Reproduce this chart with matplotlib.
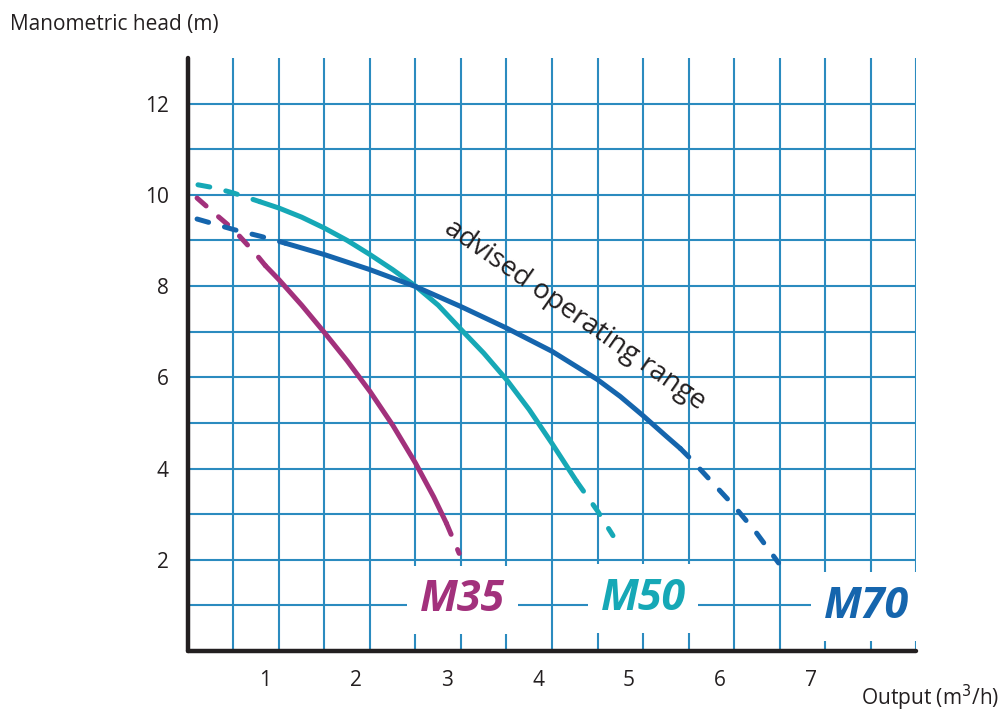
import numpy as np
import matplotlib
matplotlib.use("Agg")
import matplotlib.pyplot as plt
from matplotlib.transforms import ScaledTranslation

plt.rcParams['font.family'] = ['Open Sans', 'DejaVu Sans']

# pump curves: flow (m3/h) vs head (m)
# (index pairs mark the solid "advised operating range" part)
m35_flow = [0.10, 0.30, 0.50, 0.76, 0.85, 1.00, 1.25, 1.50, 1.75, 2.00, 2.25, 2.50, 2.70, 2.84, 2.98]
m35_head = [9.93, 9.58, 9.24, 8.67, 8.45, 8.14, 7.58, 6.98, 6.36, 5.69, 4.95, 4.12, 3.38, 2.80, 2.14]
m35_solid = (4, 13)

m50_flow = [0.11, 0.30, 0.50, 0.79, 1.00, 1.25, 1.50, 1.75, 2.00, 2.25, 2.50, 2.75,
            3.00, 3.25, 3.50, 3.75, 4.00, 4.27, 4.50, 4.67]
m50_head = [10.22, 10.15, 10.04, 9.85, 9.71, 9.51, 9.27, 9.00, 8.69, 8.36, 8.00, 7.58,
            7.05, 6.53, 5.95, 5.29, 4.55, 3.72, 3.07, 2.53]
m50_solid = (3, 17)

m70_flow = [0.10, 0.50, 0.80, 1.07, 1.50, 2.00, 2.50, 3.00, 3.50, 4.00, 4.50, 4.75,
            5.00, 5.26, 5.41, 5.52, 5.75, 6.00, 6.25, 6.49]
m70_head = [9.47, 9.24, 9.09, 8.94, 8.69, 8.36, 7.99, 7.55, 7.08, 6.57, 5.95, 5.58,
            5.16, 4.70, 4.44, 4.22, 3.72, 3.18, 2.58, 1.93]
m70_solid = (3, 14)

models = ['M35', 'M50', 'M70']
colors = ['#a2317c', '#16a8b6', '#1565ad']
label_pos = [(3.02, 1.12), (5.0, 1.16), (7.45, 0.97)]

x_ticks = [1, 2, 3, 4, 5, 6, 7]
y_ticks = [2, 4, 6, 8, 10, 12]

grid_col = '#2b8bbf'
axis_col = '#231f20'

fig = plt.figure(figsize=(10.03, 7.14), dpi=100)
ax = fig.add_axes([0.1874, 0.0882, 0.9133 - 0.1874, 0.9188 - 0.0882])
ax.set_xlim(0, 8)
ax.set_ylim(0, 13)

# grid
for gx in np.arange(0.5, 8.01, 0.5):
    ax.axvline(gx, color=grid_col, lw=1.5, zorder=1)
for gy in range(1, 13):
    ax.axhline(gy, color=grid_col, lw=1.5, zorder=1)

for s in ['top', 'right']:
    ax.spines[s].set_visible(False)
for s in ['left', 'bottom']:
    ax.spines[s].set_color(axis_col)
    ax.spines[s].set_linewidth(3.2)
    ax.spines[s].set_capstyle('round')

# curves: dashed start, solid operating range, dashed end
curves = [(m35_flow, m35_head, m35_solid),
          (m50_flow, m50_head, m50_solid),
          (m70_flow, m70_head, m70_solid)]
dash = (2.4, 3.3)
for (fx, hy, (i0, i1)), col in zip(curves, colors):
    fx, hy = np.array(fx), np.array(hy)
    kw = dict(color=col, lw=3.6, zorder=3)
    ax.plot(fx[:i0 + 1], hy[:i0 + 1], dashes=dash, dash_capstyle='round', **kw)
    ax.plot(fx[i0:i1 + 1], hy[i0:i1 + 1], solid_capstyle='round',
            solid_joinstyle='round', **kw)
    ax.plot(fx[i1:], hy[i1:], dashes=dash, dash_capstyle='round', **kw)

# model labels
for name, col, (lx, ly) in zip(models, colors, label_pos):
    ax.text(lx, ly, name, color=col, fontsize=31, fontweight='bold', style='italic',
            ha='center', va='center', zorder=4,
            bbox=dict(boxstyle='square,pad=0.3', fc='white', ec='none'))

ax.text(4.25, 7.37, 'advised operating range', fontsize=20, color='#231f20',
        rotation=-35, rotation_mode='anchor', ha='center', va='center', zorder=4)

# ticks
ax.set_xticks(x_ticks)
ax.set_xticklabels([str(v) for v in x_ticks])
ax.set_yticks(y_ticks)
ax.set_yticklabels([str(v) for v in y_ticks])
ax.tick_params(length=0, labelsize=15, labelcolor='#231f20')
ax.tick_params(axis='x', pad=14)
ax.tick_params(axis='y', pad=14)
off = ScaledTranslation(-10 / 72, 0, fig.dpi_scale_trans)
for lab in ax.get_xticklabels():
    lab.set_transform(lab.get_transform() + off)

fig.text(0.010, 0.966, 'Manometric head (m)', fontsize=15, color='#231f20', ha='left', va='center')
fig.text(0.996, 0.022, 'Output (m$^3$/h)', fontsize=15, color='#231f20', ha='right', va='center')

fig.savefig('out.png', dpi=100)
